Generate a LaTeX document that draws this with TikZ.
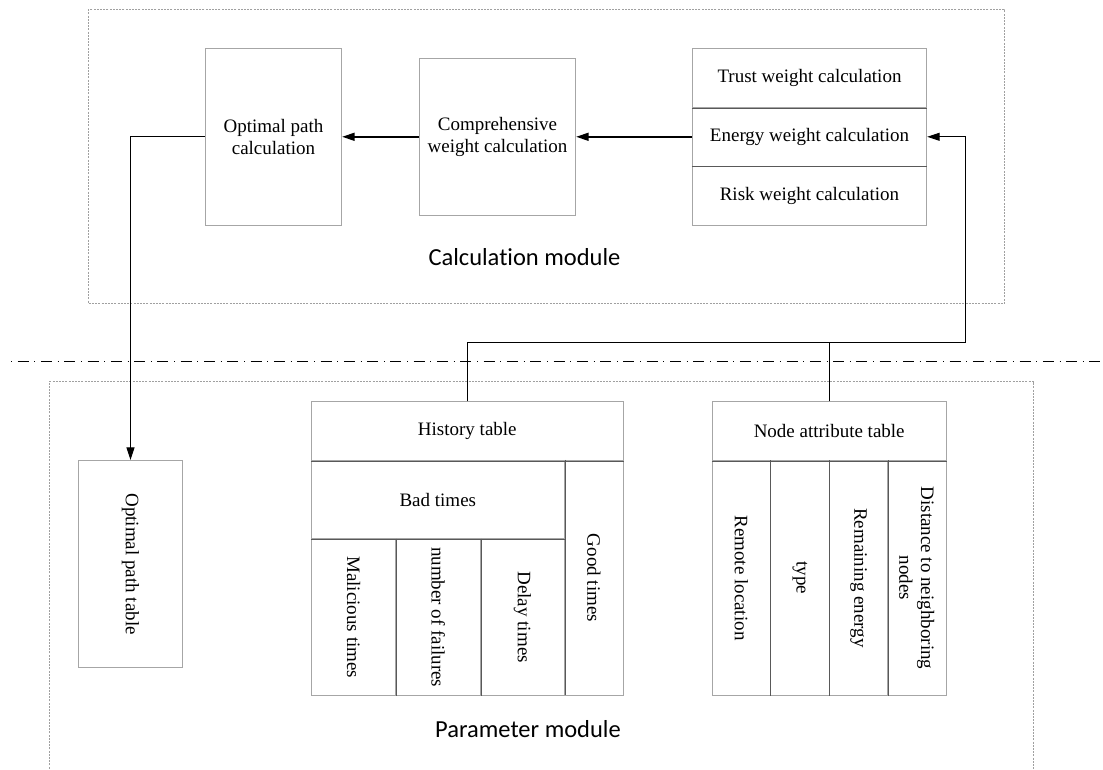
\documentclass[tikz,border=0pt]{standalone}
\usepackage{fontspec}
\usepackage{graphicx, tikz}
\usetikzlibrary{arrows.meta}
\setmainfont{Liberation Serif}
\newfontfamily\modfont[Ligatures=NoCommon]{Carlito}
\definecolor{boxgray}{HTML}{A6A6A6}
\definecolor{divgray}{HTML}{595959}
\definecolor{dashgray}{HTML}{A0A0A0}

\begin{document}
\begin{tikzpicture}[x=1pt, y=-1pt,
    cell/.style={draw=boxgray, line width=0.9pt, inner sep=0pt, align=center, font=\fontsize{19}{21.7}\selectfont},
    vcell/.style={cell, rotate=-90},
    module/.style={draw=dashgray, line width=0.7pt, dash pattern=on 2pt off 1.2pt},
    modlabel/.style={font=\modfont\fontsize{24.5}{28}\selectfont},
    link/.style={line width=1pt},
    flow/.style={line width=1.6pt},
    tip/.style={-{Triangle[length=12.5pt, width=8pt]}}]
    \useasboundingbox (0,0) rectangle (1103,770);
    \draw [module] (88.3,9.3) rectangle (1004.3,303.3);
    \draw [module] (49.3,775) -- (49.3,381.5) -- (1033.3,381.5) -- (1033.3,775);
    \draw [line width=1.2pt, dash pattern=on 1pt off 5.6pt on 11pt off 5.7pt] (11,361.7) -- (1103,361.7);
    \node [modlabel] (calcmod) at (524.5,257) {Calculation module};
    \node [modlabel] (parammod) at (528,728.7) {Parameter module};

    \node [cell, minimum width=136.4, minimum height=177] (optcalc) at (273.5,136.8) {Optimal path\\calculation};
    \node [cell, minimum width=156.4, minimum height=157] (compcalc) at (497.5,136.8) {Comprehensive\\weight calculation};
    \node [cell, minimum width=234.4, minimum height=59] (trust) at (809.5,77.8) {Trust weight calculation};
    \node [cell, minimum width=234.4, minimum height=59] (energy) at (809.5,136.8) {Energy weight calculation};
    \node [cell, minimum width=234.4, minimum height=59] (risk) at (809.5,195.8) {Risk weight calculation};
    \draw [divgray] (trust.south west) -- (trust.south east);
    \draw [divgray] (risk.north west) -- (risk.north east);

    \node [vcell, minimum width=207.4, minimum height=104.4] (pathtab) at (130.5,564) {Optimal path table};

    \node [cell, minimum width=312, minimum height=58.6] (hist) at (467.3,431) {History table};
    \node [cell, minimum width=253, minimum height=78.4] (bad) at (437.8,499.5) {Bad times};
    \node [vcell, minimum width=235.4, minimum height=59] (good) at (593.8,578) {Good times};
    \node [vcell, minimum width=157, minimum height=84.4] (malic) at (353.5,617.2) {Malicious times};
    \node [vcell, minimum width=157, minimum height=85] (fail) at (438.2,617.2) {number of failures};
    \node [vcell, minimum width=157, minimum height=83.6] (delay) at (522.5,617.2) {Delay times};
    \draw [divgray] (hist.south west) -- (hist.south east);
    \draw [divgray] (bad.south west) -- (bad.south east);
    \draw [divgray] (bad.north east) -- ++(0,235.4);
    \draw [divgray] (395.7,538.7) -- (395.7,695.7);
    \draw [divgray] (480.7,538.7) -- (480.7,695.7);

    \node [cell, minimum width=233.7, minimum height=58.6] (attr) at (829.2,431) {Node attribute table};
    \node [vcell, minimum width=235.4, minimum height=58] (remote) at (741.3,578) {Remote location};
    \node [vcell, minimum width=235.4, minimum height=59] (ntype) at (799.8,578) {type};
    \node [vcell, minimum width=235.4, minimum height=58.4] (remain) at (858.5,578) {Remaining energy};
    \node [vcell, minimum width=235.4, minimum height=58.3] (dist) at (916.8,578) {Distance to neighboring\\nodes};
    \draw [divgray] (attr.south west) -- (attr.south east);
    \draw [divgray] (770.3,460.3) -- (770.3,695.7);
    \draw [divgray] (829.3,460.3) -- (829.3,695.7);
    \draw [divgray] (887.7,460.3) -- (887.7,695.7);

    \coordinate (bus) at (965.3,342.7);
    \draw [flow, tip] (compcalc.west) -- (optcalc.east);
    \draw [flow, tip] (energy.west) -- (compcalc.east);
    \draw [link, tip] (optcalc.west) -| (pathtab.west);
    \draw [link, tip] (hist.north) |- (bus) |- (energy.east);
    \draw [link] (attr.north) -- (attr.north |- bus);
\end{tikzpicture}
\end{document}
